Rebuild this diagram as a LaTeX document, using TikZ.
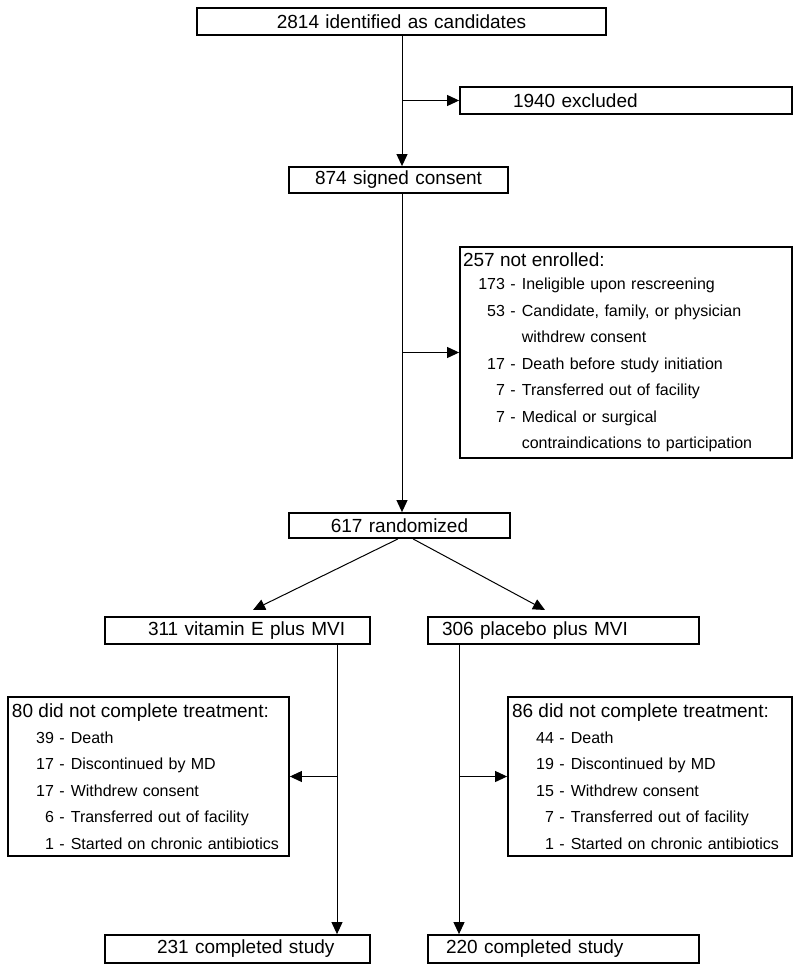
\documentclass[tikz,border=0pt]{standalone}
\usepackage{fontspec}
\setmainfont{Liberation Sans}
\usetikzlibrary{arrows.meta}
\newcommand{\itm}[2]{\makebox[42pt][r]{#1}\hspace{5.5pt}-\hspace{6pt}#2}
\newcommand{\itmc}[1]{\makebox[42pt]{}\hspace{5.5pt}\phantom{-}\hspace{6pt}#1}
\newcommand{\hd}[1]{{\fontsize{19}{26.5}\selectfont #1}}
\tikzset{
  box/.style={draw, line width=1.8pt, inner ysep=0pt, minimum height=27pt,
    font=\fontsize{19}{23}\selectfont},
  obox/.style={box, inner xsep=0pt, align=left},
  lbox/.style={draw, line width=1.8pt, inner ysep=0pt, inner xsep=4pt,
    align=left, font=\fontsize{16}{26.5}\selectfont},
  arr/.style={line width=1pt, -{Triangle[length=12pt,width=11pt]}},
}
\begin{document}
\begin{tikzpicture}[x=1pt,y=-1pt]
\useasboundingbox (0,0) rectangle (800,973);
\fill[white] (0,0) rectangle (800,973);

\coordinate (spine) at (402,0);
\coordinate (lx) at (337,0);
\coordinate (rx) at (459,0);
\coordinate (dl) at (253,610);
\coordinate (dr) at (545,610);

\node[box, minimum width=409pt, inner xsep=4pt, text width=401pt, align=center] (top) at (401.5,21.5) {2814 identified as candidates};
\node[obox, minimum width=332pt, text width=332pt] (excl) at (626,100.5) {\hspace*{53pt}1940 excluded};
\node[box, minimum width=219pt, minimum height=26pt, inner xsep=4pt, text width=211pt, align=center] (consent) at (398.5,180) {874 signed consent};
\node[lbox, minimum width=332pt, minimum height=211pt, inner xsep=3pt, text width=326pt] (notenr) at (626,352.5) {%
\hd{257 not enrolled:}\\[-3.5pt]
\itm{173}{Ineligible upon rescreening}\\
\itm{53}{Candidate, family, or physician}\\
\itmc{withdrew consent}\\
\itm{17}{Death before study initiation}\\
\itm{7}{Transferred out of facility}\\
\itm{7}{Medical or surgical}\\
\itmc{contraindications to participation}};
\node[box, minimum width=221pt, minimum height=25pt, inner xsep=4pt, text width=213pt, align=center] (rand) at (399.5,525.5) {617 randomized};
\node[obox, minimum width=265pt, text width=265pt] (vitE) at (237.5,630.5) {\hspace*{43pt}311 vitamin E plus MVI};
\node[obox, minimum width=271pt, text width=271pt] (plac) at (563.5,630.5) {\hspace*{14pt}306 placebo plus MVI};
\node[lbox, minimum width=281pt, minimum height=159pt, text width=273pt] (nc80) at (148.5,776.5) {%
\hd{80 did not complete treatment:}\\[-0.5pt]
\itm{39}{Death}\\
\itm{17}{Discontinued by MD}\\
\itm{17}{Withdrew consent}\\
\itm{6}{Transferred out of facility}\\
\itm{1}{Started on chronic antibiotics}};
\node[lbox, minimum width=284pt, minimum height=159pt, text width=276pt] (nc86) at (650,776.5) {%
\hd{86 did not complete treatment:}\\[-0.5pt]
\itm{44}{Death}\\
\itm{19}{Discontinued by MD}\\
\itm{15}{Withdrew consent}\\
\itm{7}{Transferred out of facility}\\
\itm{1}{Started on chronic antibiotics}};
\node[obox, minimum width=265pt, minimum height=28pt, text width=265pt] (c231) at (237.5,949) {\hspace*{52pt}231 completed study};
\node[obox, minimum width=271pt, minimum height=28pt, text width=271pt] (c220) at (563.5,949) {\hspace*{18pt}220 completed study};

\draw[arr] (top.south -| spine) -- (consent.north -| spine);
\draw[arr] (excl.west -| spine) -- (excl.west);
\draw[arr] (consent.south -| spine) -- (rand.north -| spine);
\draw[arr] (notenr.west -| spine) -- (notenr.west);
\draw[arr] ([xshift=-1.5pt]rand.south) -- (dl);
\draw[arr] ([xshift=13.5pt]rand.south) -- (dr);
\draw[arr] (vitE.south -| lx) -- (c231.north -| lx);
\draw[arr] (nc80.east -| lx) -- (nc80.east);
\draw[arr] (plac.south -| rx) -- (c220.north -| rx);
\draw[arr] (nc86.west -| rx) -- (nc86.west);
\end{tikzpicture}
\end{document}
